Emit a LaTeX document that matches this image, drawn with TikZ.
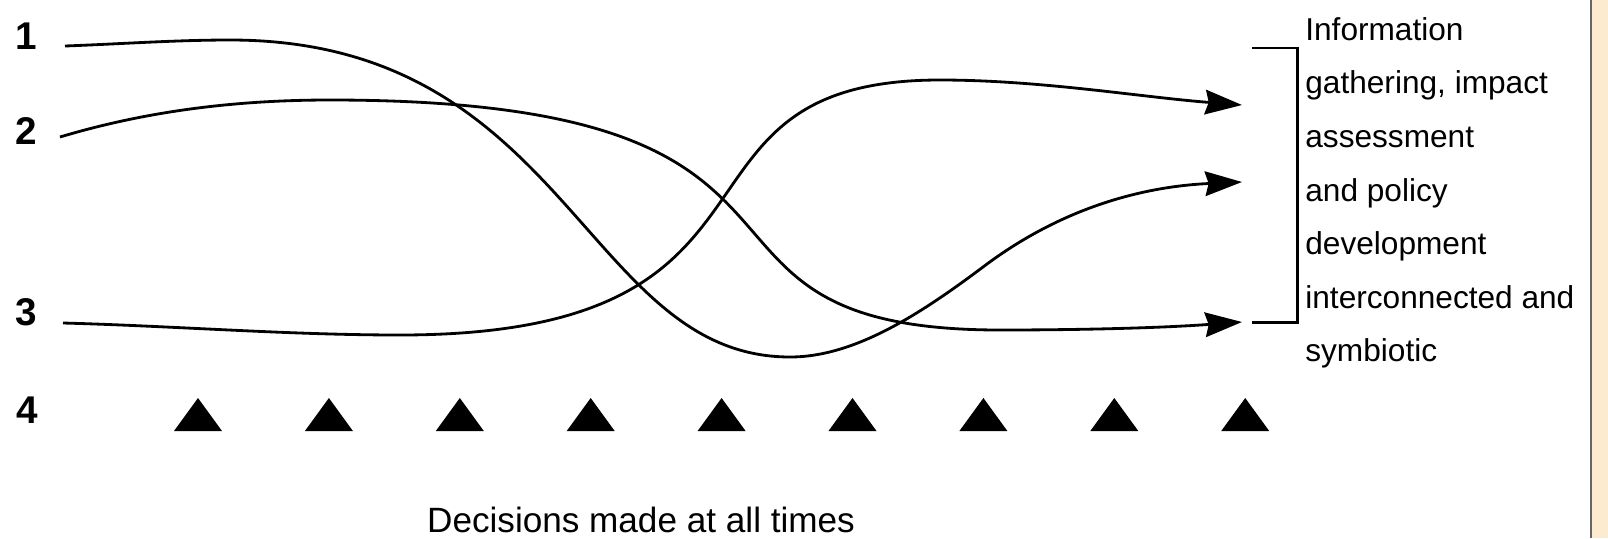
\documentclass[tikz,border=0pt]{standalone}
\usepackage{fontspec}
\setmainfont{Liberation Sans}
\usetikzlibrary{arrows.meta}
\definecolor{papier}{RGB}{252,235,207}

\begin{document}
\begin{tikzpicture}[x=0.02cm, y=-0.02cm, >={Stealth[length=21pt, width=14pt, inset=2pt]}]
        % Styles
        \tikzstyle{labelNumber} = [font=\fontsize{22}{26}\selectfont\bfseries, inner sep=0pt]
        \tikzstyle{sideText} = [font=\fontsize{18}{30.5}\selectfont, align=left, anchor=north west, inner sep=0pt]
        \tikzstyle{bottomText} = [font=\fontsize{20}{24}\selectfont, anchor=base, inner sep=0pt]
        \tikzstyle{flowLine} = [line width=1.6pt, ->]
        \tikzstyle{bracketLine} = [line width=1.7pt]

        % Page and right band
        \useasboundingbox (0,0) rectangle (1608,538);
        \fill[white] (0,0) rectangle (1591,538);
        \fill[papier] (1591,0) rectangle (1608,538);
        \draw[line width=1.2pt, black!60] (1591,0) -- (1591,538);

        % Row numbers
        \node[labelNumber] (num1) at (26,36) {1};
        \node[labelNumber] (num2) at (26,131) {2};
        \node[labelNumber] (num3) at (26,312) {3};
        \node[labelNumber] (num4) at (27,410) {4};

        % Ends of the curves
        \coordinate (start1) at (65,46);
        \coordinate (start2) at (60,137);
        \coordinate (start3) at (63,323);
        \coordinate (endTop) at (1242,105);
        \coordinate (endMid) at (1242,182);
        \coordinate (endBot) at (1242,322);

        % Curves
        \draw[flowLine] (start1) .. controls (120,44) and (175,40) .. (230,40)
            .. controls (568,40) and (585,357) .. (790,357)
            .. controls (854,357) and (919,315) .. (983,267)
            .. controls (1069,202) and (1154,186) .. (endMid);
        \draw[flowLine] (start2) .. controls (150,110) and (240,100) .. (330,100)
            .. controls (888,100) and (637,330) .. (1000,330)
            .. controls (1080,330) and (1160,328) .. (endBot);
        \draw[flowLine] (start3) .. controls (175,326) and (288,335) .. (400,335)
            .. controls (820,335) and (644,80) .. (940,80)
            .. controls (1040,80) and (1140,97) .. (endTop);

        % Bracket
        \coordinate (bracketTop) at (1252,48);
        \coordinate (bracketBot) at (1252,322);
        \draw[bracketLine] (bracketTop) -- ++(45,0) |- (bracketBot);

        % Decision markers
        \foreach \k in {0,...,8} {
            \pgfmathsetmacro{\tx}{198+130.9*\k}
            \fill (\tx-24,431) -- (\tx+24,431) -- (\tx,398) -- cycle;
        }

        % Texts
        \node[sideText] (sideNote) at (1305,17) {Information\\gathering, impact\\assessment\\and policy\\development\\interconnected and\\symbiotic};
        \node[bottomText] (timeNote) at (641,532) {Decisions made at all times};
\end{tikzpicture}
\end{document}
